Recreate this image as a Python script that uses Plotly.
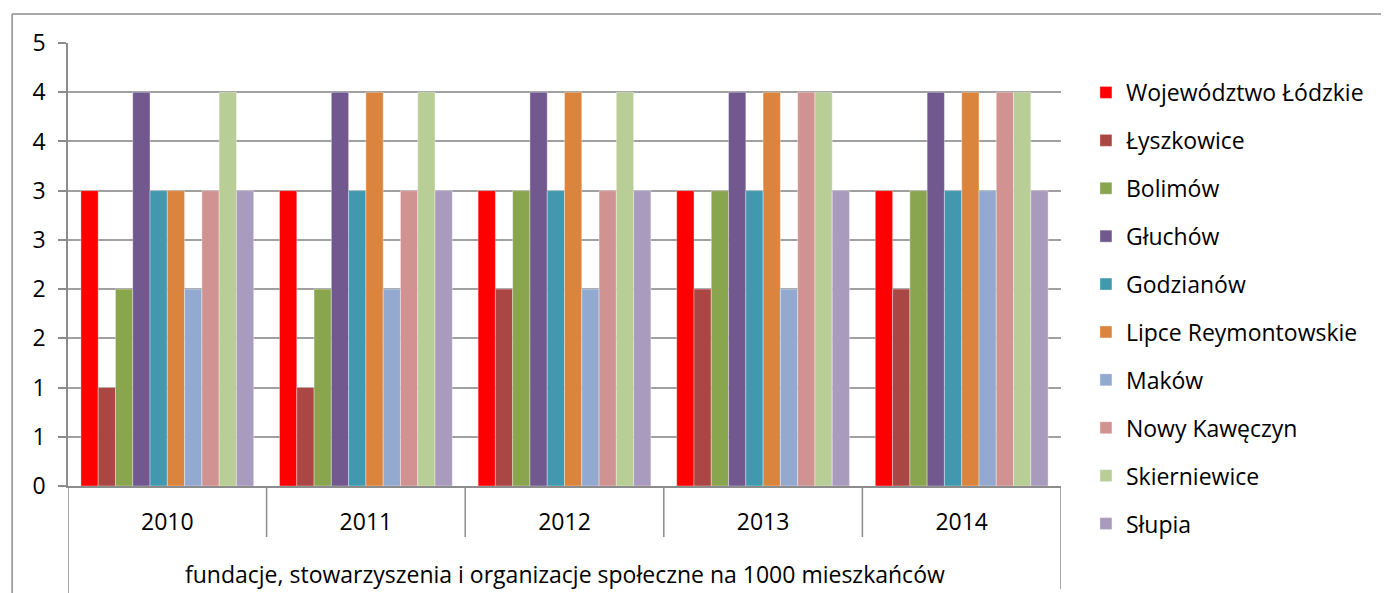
import plotly.graph_objects as go

years = ["2010", "2011", "2012", "2013", "2014"]
series_names = ["Województwo Łódzkie", "Łyszkowice", "Bolimów", "Głuchów", "Godzianów",
                "Lipce Reymontowskie", "Maków", "Nowy Kawęczyn", "Skierniewice", "Słupia"]
wojewodztwo = [3.0, 3.0, 3.0, 3.0, 3.0]
lyszkowice = [1.0, 1.0, 2.0, 2.0, 2.0]
bolimow = [2.0, 2.0, 3.0, 3.0, 3.0]
gluchow = [4.0, 4.0, 4.0, 4.0, 4.0]
godzianow = [3.0, 3.0, 3.0, 3.0, 3.0]
lipce = [3.0, 4.0, 4.0, 4.0, 4.0]
makow = [2.0, 2.0, 2.0, 2.0, 3.0]
nowy_kaweczyn = [3.0, 3.0, 3.0, 4.0, 4.0]
skierniewice = [4.0, 4.0, 4.0, 4.0, 4.0]
slupia = [3.0, 3.0, 3.0, 3.0, 3.0]
series_values = [wojewodztwo, lyszkowice, bolimow, gluchow, godzianow,
                 lipce, makow, nowy_kaweczyn, skierniewice, slupia]
colors = ["#FF0000", "#AA4643", "#89A54E", "#71588F", "#4198AF",
          "#DB843D", "#93A9CF", "#D19392", "#B9CD96", "#A99BBD"]
y_tick_values = [0, 0.5, 1, 1.5, 2, 2.5, 3, 3.5, 4, 4.5]
y_tick_labels = ["0", "1", "1", "2", "2", "3", "3", "4", "4", "5"]
category_label = "fundacje, stowarzyszenia i organizacje społeczne na 1000 mieszkańców"

FONT = "Open Sans"
FS = 23
GREY = "#8C8C8C"
OFF = 8  # browser body margin
W, H = 1389 - 2 * OFF, 593 - OFF
# plot area in page pixels
L, R, T, B = 68, 1063, 43, 486
pw, ph = R - L, B - T

def px2x(p):
    return (p - L) / pw

def px2y(p):
    return (B - p) / ph

fig = go.Figure()
for i, (name, vals, col) in enumerate(zip(series_names, series_values, colors)):
    fig.add_trace(go.Bar(
        x=years, y=vals, name=name, marker_color=col,
        marker_line=dict(width=0.8, color="rgba(255,255,255,0.45)"),
        legendgroup=f"g{i}",
    ))

shapes = []
for k in range(len(years) + 1):
    xb = k - 0.5
    if k == 0:
        y1 = px2y(600)
    elif k == len(years):
        y1 = px2y(589)
    else:
        y1 = px2y(537)
    shapes.append(dict(type="line", xref="x", yref="paper", x0=xb, x1=xb,
                       y0=0, y1=y1, line=dict(color=GREY, width=1.5)))
shapes.append(dict(type="line", xref="paper", yref="paper",
                   x0=px2x(12), x1=px2x(1400), y0=px2y(14), y1=px2y(14),
                   line=dict(color=GREY, width=1.5)))
shapes.append(dict(type="line", xref="paper", yref="paper",
                   x0=px2x(12), x1=px2x(12), y0=px2y(14), y1=px2y(600),
                   line=dict(color=GREY, width=1.5)))

fig.update_layout(
    width=W, height=H,
    margin=dict(l=L - OFF, r=(W + OFF) - R, t=T - OFF, b=(H + OFF) - B, pad=0),
    paper_bgcolor="white", plot_bgcolor="white",
    barmode="group", bargap=0.13, bargroupgap=0,
    font=dict(family=FONT, size=FS, color="#000000"),
    showlegend=True,
    legend=dict(x=px2x(1088), y=px2y(71), xanchor="left", yanchor="top",
                font=dict(size=FS, family=FONT), tracegroupgap=15,
                maxheight=700, bgcolor="rgba(0,0,0,0)"),
    shapes=shapes,
    annotations=[dict(text=category_label, xref="paper", yref="paper",
                      x=0.5, y=px2y(574), xanchor="center", yanchor="middle",
                      showarrow=False, font=dict(size=FS, family=FONT))],
)
fig.update_xaxes(type="category", range=[-0.5, len(years) - 0.5],
                 showline=True, linecolor=GREY, linewidth=1.5,
                 ticks="", showgrid=False, tickfont=dict(size=FS),
                 ticklabelstandoff=15)
fig.update_yaxes(range=[0, 4.5], tickvals=y_tick_values, ticktext=y_tick_labels,
                 showgrid=True, gridcolor="#A0A0A0", gridwidth=1.5,
                 showline=True, linecolor=GREY, linewidth=1.5,
                 ticks="outside", ticklen=8, tickcolor=GREY, tickwidth=1.5,
                 tickfont=dict(size=FS), zeroline=False, ticklabelstandoff=8)

fig.write_html("out.html")
